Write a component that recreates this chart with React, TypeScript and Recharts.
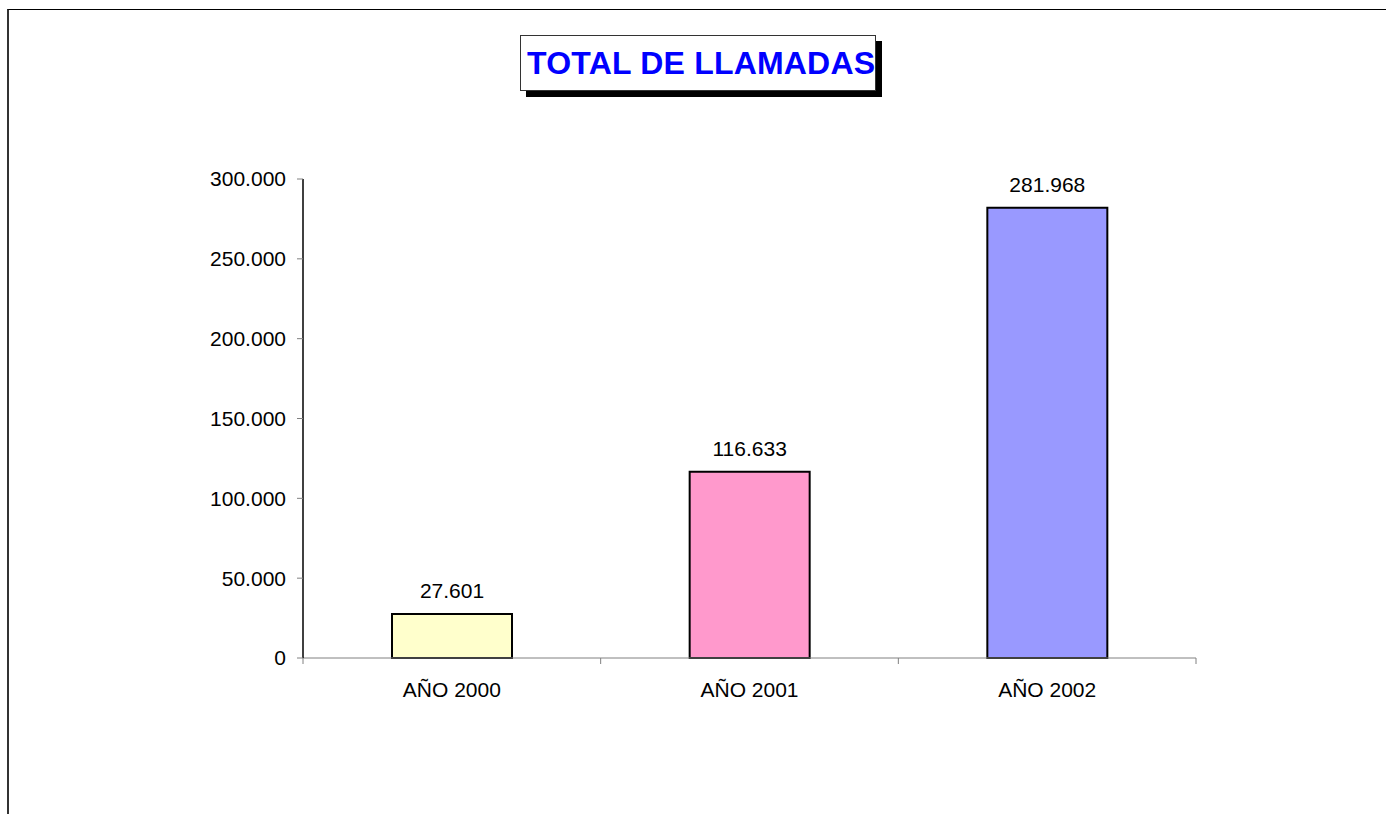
import { Bar, BarChart, Cell, LabelList, XAxis, YAxis } from "recharts";

const categories = ["AÑO 2000", "AÑO 2001", "AÑO 2002"];
const totals = [27601, 116633, 281968];
const barColors = ["#FFFFCC", "#FF99CC", "#9999FF"];
const yTicks = [0, 50000, 100000, 150000, 200000, 250000, 300000];

const data = categories.map((name, i) => ({ name, total: totals[i] }));

const FONT = "'Liberation Sans', Arial, sans-serif";
const W = 1386;
const H = 814;
const margin = { top: 179, right: 190, bottom: 96, left: 203 };
const bandWidth = (W - margin.left - 100 - margin.right) / categories.length;

const fmt = (v: number) => String(Math.round(v)).replace(/\B(?=(\d{3})+(?!\d))/g, ".");

function CategoryTick(props: any) {
  const { x, y, payload, index } = props;
  const left = x - bandWidth / 2;
  return (
    <g>
      <line x1={left} x2={left} y1={y} y2={y + 6} stroke="#808080" strokeWidth={1} />
      {index === categories.length - 1 && (
        <line x1={x + bandWidth / 2} x2={x + bandWidth / 2} y1={y} y2={y + 6} stroke="#808080" />
      )}
      <text x={x} y={y + 39} textAnchor="middle" fontSize={21} fontFamily={FONT} fill="#000">
        {payload.value}
      </text>
    </g>
  );
}

export default function App() {
  return (
    <div style={{ position: "absolute", left: 0, top: 0, width: W, height: H, overflow: "hidden", background: "#fff" }}>
      <div
        style={{
          position: "absolute",
          left: 7,
          top: 9,
          right: -10,
          bottom: -10,
          borderTop: "1px solid #000",
          borderLeft: "2px solid #333",
        }}
      />
      <BarChart
        width={W}
        height={H}
        data={data}
        margin={margin}
        barCategoryGap={0}
        style={{ position: "absolute", left: 0, top: 0 }}
      >
        <XAxis
          dataKey="name"
          height={60}
          tickSize={0}
          tickMargin={0}
          axisLine={{ stroke: "#808080", strokeWidth: 1 }}
          tickLine={false}
          tick={<CategoryTick />}
          interval={0}
        />
        <YAxis
          width={100}
          domain={[0, 300000]}
          ticks={yTicks}
          tickFormatter={fmt}
          tickSize={6}
          tickMargin={11}
          axisLine={{ stroke: "#000", strokeWidth: 1.5 }}
          tickLine={{ stroke: "#808080" }}
          tick={{ fontSize: 21, fontFamily: FONT, fill: "#000" }}
          interval={0}
        />
        <Bar dataKey="total" barSize={120} stroke="#000" strokeWidth={2} isAnimationActive={false}>
          {data.map((d, i) => (
            <Cell key={d.name} fill={barColors[i]} />
          ))}
          <LabelList
            dataKey="total"
            position="top"
            offset={16}
            formatter={(v: any) => fmt(Number(v))}
            style={{ fontSize: 21, fontFamily: FONT, fill: "#000" }}
          />
        </Bar>
      </BarChart>
      <div
        style={{
          position: "absolute",
          left: 520,
          top: 35,
          width: 348,
          height: 54,
          border: "1px solid #333",
          background: "#fff",
          boxShadow: "6px 6px 0 #000",
          boxSizing: "content-box",
          fontFamily: FONT,
          fontWeight: "bold",
          fontSize: 32,
          letterSpacing: 0.2,
          color: "#0000FF",
          lineHeight: "54px",
          paddingLeft: 6,
          whiteSpace: "nowrap",
          overflow: "hidden",
        }}
      >
        TOTAL DE LLAMADAS
      </div>
    </div>
  );
}
